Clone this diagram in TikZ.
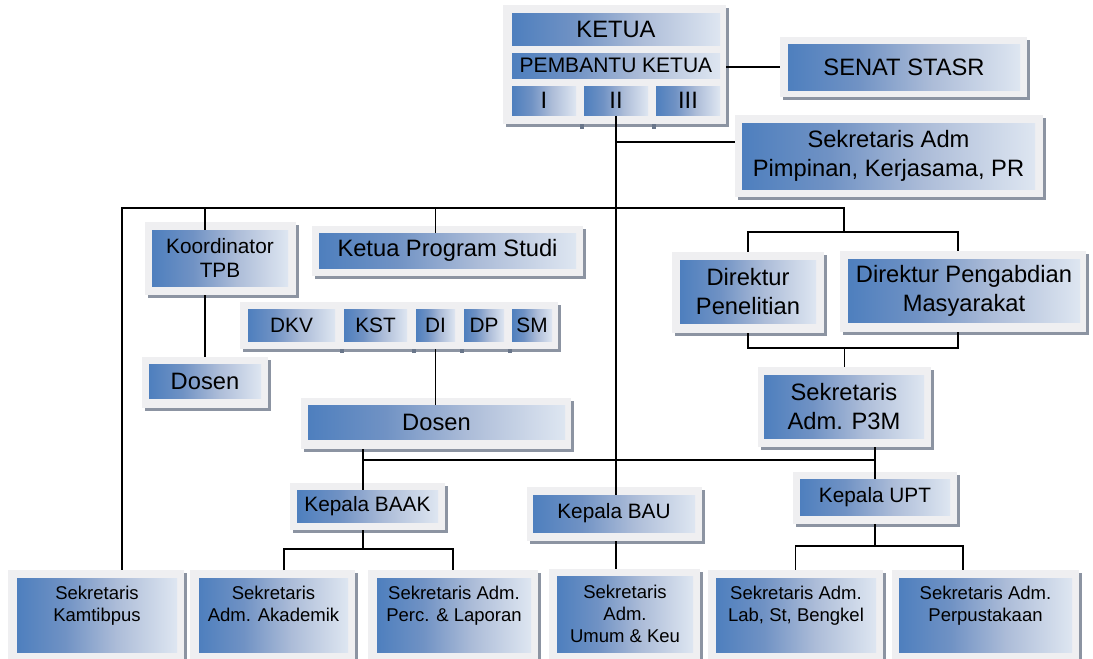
\documentclass[tikz,border=0pt]{standalone}
\usepackage{fontspec}
\setmainfont{Liberation Sans}
\usetikzlibrary{fit,shadows,calc}

\definecolor{bA}{RGB}{78,127,190}
\definecolor{bB}{RGB}{112,146,196}
\definecolor{bC}{RGB}{172,188,216}
\definecolor{bD}{RGB}{222,230,241}
\definecolor{framecol}{RGB}{239,239,241}
\definecolor{shadecol}{RGB}{140,148,162}
\definecolor{blipcol}{RGB}{105,118,138}

\pgfdeclarehorizontalshading{boxfill}{100bp}{color(0bp)=(bA); color(25bp)=(bA); color(40bp)=(bB); color(56bp)=(bC); color(75bp)=(bD); color(100bp)=(bD)}

\pgfdeclarelayer{back}
\pgfdeclarelayer{wires}
\pgfsetlayers{back,wires,main}

\tikzset{
  unit/.style={shading=boxfill, draw=none, inner sep=0pt, align=center, text=black},
  % a rectangle given by its corners (x1,y1) and (x2,y2)
  span/.style n args={4}{minimum width={(#3-#1)*1pt}, minimum height={(#4-#2)*1pt},
    at={({(#1+#3)/2},{(#2+#4)/2})}, anchor=center},
  tsL/.style={font=\fontsize{23.7}{29}\selectfont},
  tsP/.style={font=\fontsize{21}{25}\selectfont},
  tsM/.style={font=\fontsize{20.8}{24}\selectfont},
  tsS/.style={font=\fontsize{18.5}{22}\selectfont},
  panel/.style={fill=framecol, draw=none, inner sep=0pt,
    drop shadow={shadow xshift=3pt, shadow yshift=-3pt, opacity=1, fill=shadecol}},
  wire/.style={draw=black, line width=1.7pt},
}

\begin{document}
\begin{tikzpicture}[x=1pt, y=-1pt]
\useasboundingbox (0,0) rectangle (1093,659);
\clip (0,0) rectangle (1093,659);

% ---------- frames with shadows ----------
\begin{pgfonlayer}{back}
  \fill[white] (0,0) rectangle (1093,659);
  \node[panel, span={503}{5}{726}{124}] (topF) {};
  \node[panel, span={780}{37}{1027}{97}] (senatF) {};
  \node[panel, span={735}{115}{1043}{197}] (sekF) {};
  \node[panel, span={145}{222}{296}{295}] (koordF) {};
  \node[panel, span={312}{226}{583}{276}] (kpsF) {};
  \node[panel, span={142}{357}{268}{408}] (dosenAF) {};
  \node[panel, span={240}{302}{558}{349}] (progF) {};
  \node[panel, span={301}{398}{571}{449}] (dosenBF) {};
  \node[panel, span={672}{252}{824}{333}] (dpenF) {};
  \node[panel, span={840}{251}{1086}{332}] (dpmF) {};
  \node[panel, span={758}{367}{931}{447}] (p3mF) {};
  \node[panel, span={290}{483}{445}{530}] (baakF) {};
  \node[panel, span={527}{487}{702}{541}] (bauF) {};
  \node[panel, span={793}{472}{957}{524}] (uptF) {};
  \node[panel, span={8}{570}{184}{665}] (kamtF) {};
  \node[panel, span={190}{570}{355}{665}] (akadF) {};
  \node[panel, span={368}{570}{538}{665}] (percF) {};
  \node[panel, span={549}{569}{700}{665}] (umumF) {};
  \node[panel, span={708}{570}{883}{665}] (labF) {};
  \node[panel, span={892}{570}{1079}{665}] (perpF) {};
  % small shadow marks under the grouped panels
  \fill[blipcol] (580,124) rectangle (584,129);
  \fill[blipcol] (652,124) rectangle (656,129);
  \fill[blipcol] (340,349) rectangle (344,353);
  \fill[blipcol] (412,349) rectangle (416,353);
  \fill[blipcol] (460,349) rectangle (464,353);
  \fill[blipcol] (508,349) rectangle (512,353);
\end{pgfonlayer}

% ---------- units ----------
\node[unit, tsL, span={512}{13}{720}{45}] (ketua) {KETUA};
\node[unit, tsP, span={512}{53}{720}{78}] (pemb) {PEMBANTU KETUA};
\node[unit, tsL, span={512}{86}{576}{115}] (pkI) {I};
\node[unit, tsL, span={584}{86}{648}{115}] (pkII) {II};
\node[unit, tsL, span={656}{86}{720}{115}] (pkIII) {III};
\node[unit, tsL, span={788}{44}{1020}{90}] (senat) {SENAT STASR};
\node[unit, tsL, span={742}{123}{1035}{189}] (sek) {Sekretaris Adm\\Pimpinan, Kerjasama, PR};
\node[unit, tsM, span={152}{230}{288}{286}] (koord) {Koordinator\\TPB};
\node[unit, tsL, span={319}{233}{576}{268}] (kps) {Ketua Program Studi};
\node[unit, tsL, span={149}{364}{261}{398}] (dosenA) {Dosen};
\node[unit, tsM, span={248}{309}{335}{341}] (dkv) {DKV};
\node[unit, tsM, span={344}{309}{407}{341}] (kst) {KST};
\node[unit, tsM, span={416}{309}{455}{341}] (di) {DI};
\node[unit, tsM, span={464}{309}{504}{341}] (dp) {DP};
\node[unit, tsM, span={512}{309}{552}{341}] (sm) {SM};
\node[unit, tsL, span={308}{405}{565}{439}] (dosenB) {Dosen};
\node[unit, tsL, span={680}{260}{816}{323}] (dpen) {Direktur\\Penelitian};
\node[unit, tsL, span={848}{259}{1080}{322}] (dpm) {Direktur Pengabdian\\Masyarakat};
\node[unit, tsL, span={764}{375}{924}{438}] (p3m) {Sekretaris\\Adm. P3M};
\node[unit, tsM, span={297}{490}{438}{522}] (baak) {Kepala BAAK};
\node[unit, tsM, span={533}{495}{695}{532}] (bau) {Kepala BAU};
\node[unit, tsM, span={800}{479}{950}{515}] (upt) {Kepala UPT};
\node[unit, tsS, span={17}{578}{177}{652}] (kamt) {Sekretaris\\Kamtibpus\\\phantom{X}};
\node[unit, tsS, span={199}{578}{348}{652}] (akad) {Sekretaris\\Adm. Akademik\\\phantom{X}};
\node[unit, tsS, span={377}{578}{531}{652}] (perc) {Sekretaris Adm.\\Perc. \& Laporan\\\phantom{X}};
\node[unit, tsS, span={557}{576}{693}{652}] (umum) {Sekretaris\\Adm.\\Umum \& Keu};
\node[unit, tsS, span={716}{578}{876}{652}] (lab) {Sekretaris Adm.\\Lab, St, Bengkel\\\phantom{X}};
\node[unit, tsS, span={899}{578}{1072}{652}] (perp) {Sekretaris Adm.\\Perpustakaan\\\phantom{X}};

% ---------- connectors ----------
\begin{pgfonlayer}{wires}
  % chair to senate
  \draw[wire] (senatF.west -| topF.east) -- (senatF.west);
  % spine from vice-chair II
  \draw[wire] (pkII.south) -- (pkII.south |- bau.north);
  \coordinate (sekTap) at ($(pkII.south)+(0,27)$);
  \draw[wire] (sekTap) -- (sekTap -| sekF.west);
  % upper bus
  \coordinate (busW) at (122,208);
  \coordinate (busE) at (busW -| p3m.north);
  \coordinate (dirTop) at ($(busE)+(0,24)$);
  \coordinate (dpmTapTop) at (958,251);
  \coordinate (dpmTapBot) at (958,332);
  \draw[wire] (busW |- kamtF.north) -- (busW) -- (busE) -- (dirTop);
  \draw[wire] (dpenF.north) |- (dirTop) -| (dpmTapTop);
  % coordinator and its lecturers
  \draw[wire] (busW -| dosenA.north) -- (koord.north -| dosenA.north);
  \draw[wire] (koordF.south -| dosenA.north) -- (dosenAF.north);
  % study programmes
  \draw[wire] (busW -| di.north) -- (kps.north -| di.north);
  \draw[wire] (progF.south -| di.south) -- (dosenB.north -| di.south);
  % directors to P3M secretary
  \coordinate (dirBot) at ($(p3mF.north)+(0,-19)$);
  \draw[wire] (dpenF.south) |- (dirBot) -| (dpmTapBot);
  \draw[wire] (dirBot) -- (p3mF.north);
  % lower bus
  \coordinate (lowW) at (363,460);
  \coordinate (lowE) at (lowW -| upt.north);
  \draw[wire] (lowW |- dosenBF.south) -- (lowW |- baak.north);
  \draw[wire] (lowW) -- (lowE);
  \draw[wire] (p3mF.south -| upt.north) -- (upt.north);
  % BAAK branch
  \coordinate (baakFork) at ($(lowW)+(0,89)$);
  \coordinate (akadTap) at (284,570);
  \draw[wire] (lowW |- baakF.south) -- (baakFork);
  \draw[wire] (akadTap) |- (baakFork) -| (percF.north);
  % BAU branch
  \draw[wire] (bauF.south -| pkII.south) -- (umumF.north -| pkII.south);
  % UPT branch
  \coordinate (uptFork) at ($(upt.south)+(0,31)$);
  \coordinate (perpTap) at (963,570);
  \draw[wire] (uptF.south -| upt.south) -- (uptFork);
  \draw[wire] (labF.north) |- (uptFork) -| (perpTap);
\end{pgfonlayer}
\end{tikzpicture}
\end{document}
